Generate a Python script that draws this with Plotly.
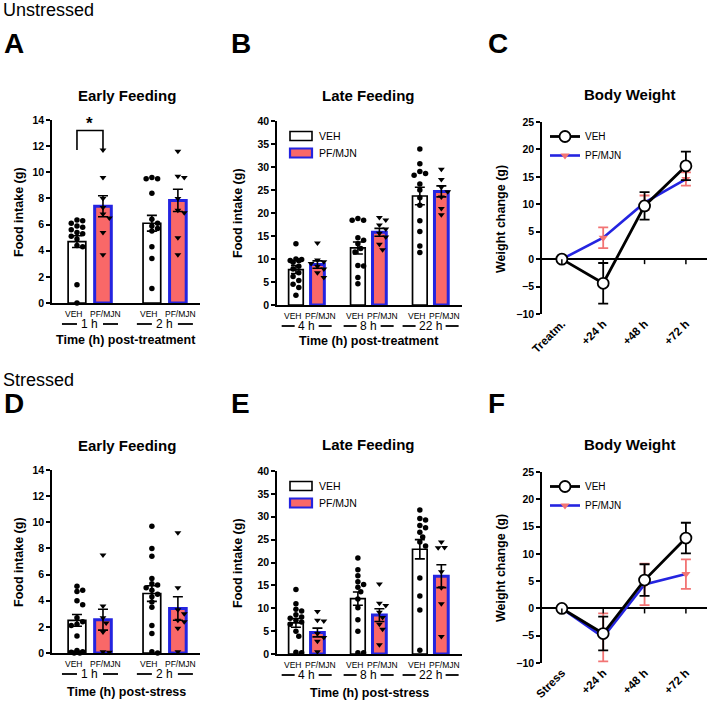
import plotly.graph_objects as go

W, H = 709, 702
FONT = "Liberation Sans, Arial, sans-serif"
SALMON = "#F96868"
BLUE = "#2424E0"
LIGHTRED = "#F27474"

# ---------------- data ----------------
early_groups = ["1 h", "2 h"]
late_groups = ["4 h", "8 h", "22 h"]
bw_labels_unstressed = ["Treatm.", "+24 h", "+48 h", "+72 h"]
bw_labels_stressed = ["Stress", "+24 h", "+48 h", "+72 h"]
series_names = ["VEH", "PF/MJN"]

# Panel A - unstressed early feeding
A_veh_mean = [4.7, 6.1]
A_veh_sem = [0.45, 0.6]
A_pf_mean = [7.4, 7.85]
A_pf_sem = [0.8, 0.85]
A_veh_1h = [6.35, 6.3, 6.1, 5.9, 5.8, 5.6, 5.4, 5.3, 5.1, 4.9, 4.4, 4.3, 1.4, 0.0]
A_pf_1h = [11.7, 9.6, 8.0, 7.3, 6.8, 6.5, 5.4, 3.7]
A_veh_2h = [9.6, 9.5, 9.5, 8.4, 6.4, 6.1, 5.9, 5.7, 5.5, 4.3, 3.4, 1.1]
A_pf_2h = [11.6, 9.7, 9.6, 8.0, 7.1, 6.9, 5.0, 3.7]
A_sig_bracket = [11.7, 13.2]
A_sig_star_y = 13.75

# Panel B - unstressed late feeding
B_veh_mean = [7.7, 12.4, 23.7]
B_veh_sem = [0.85, 1.3, 1.9]
B_pf_mean = [8.8, 15.8, 24.7]
B_pf_sem = [0.8, 0.85, 1.2]
B_veh_4h = [13.3, 10.0, 9.9, 9.7, 9.6, 9.3, 8.4, 7.8, 7.0, 6.2, 5.3, 4.5, 3.8, 2.1]
B_pf_4h = [13.5, 9.8, 9.4, 9.0, 8.4, 7.8, 7.0, 6.0]
B_veh_8h = [18.8, 18.4, 18.4, 14.6, 14.1, 13.3, 12.3, 11.5, 8.6, 8.5, 6.0, 4.6]
B_pf_8h = [19.0, 18.5, 17.4, 16.5, 15.6, 14.8, 13.2, 12.0]
B_veh_22h = [33.9, 30.7, 29.0, 28.6, 28.2, 26.3, 25.0, 23.3, 21.7, 18.3, 16.0, 12.8, 11.4]
B_pf_22h = [29.5, 27.3, 25.6, 24.6, 23.5, 21.0, 19.6]

# Panel C - unstressed body weight
C_veh_mean = [0.0, -4.4, 9.7, 17.0]
C_veh_sem = [0.0, 3.7, 2.5, 2.6]
C_pf_mean = [0.0, 3.9, 10.3, 14.6]
C_pf_sem = [0.0, 1.9, 1.3, 1.2]

# Panel D - stressed early feeding
D_veh_mean = [2.5, 4.55]
D_veh_sem = [0.45, 0.6]
D_pf_mean = [2.55, 3.4]
D_pf_sem = [0.8, 0.9]
D_veh_1h = [5.1, 4.8, 4.7, 4.0, 3.7, 2.7, 2.4, 2.2, 2.1, 1.3, 0.2, 0.1, 0.05, 0.0, 0.0]
D_pf_1h = [7.5, 3.6, 2.7, 2.3, 1.6, 0.1, 0.05]
D_veh_2h = [9.7, 8.0, 7.4, 5.7, 5.3, 5.2, 5.0, 4.8, 4.5, 4.3, 3.9, 3.5, 2.1, 1.5, 0.1, 0.0]
D_pf_2h = [9.2, 5.0, 3.3, 3.0, 2.5, 2.4, 1.9, 0.1]

# Panel E - stressed late feeding
E_veh_mean = [6.8, 12.1, 22.9]
E_veh_sem = [0.95, 1.45, 2.1]
E_pf_mean = [4.7, 8.5, 17.0]
E_pf_sem = [0.95, 1.4, 2.5]
E_veh_4h = [14.1, 11.0, 9.8, 9.4, 8.6, 8.1, 7.8, 7.4, 7.0, 6.5, 5.0, 3.9, 0.4, 0.3]
E_pf_4h = [9.3, 7.4, 7.2, 4.5, 3.6, 2.8, 0.5]
E_veh_8h = [21.0, 18.4, 17.1, 15.8, 15.2, 14.6, 13.6, 12.0, 10.1, 7.5, 5.0, 0.3, 0.3]
E_pf_8h = [15.3, 11.1, 10.6, 9.1, 8.0, 6.5, 5.4, 2.0]
E_veh_22h = [31.5, 29.6, 29.3, 28.1, 27.6, 26.6, 25.6, 24.5, 23.6, 16.6, 12.7, 9.6, 0.8]
E_pf_22h = [24.5, 23.3, 23.2, 18.0, 14.5, 11.0, 3.8]

# Panel F - stressed body weight
F_veh_mean = [0.0, -4.6, 5.2, 12.9]
F_veh_sem = [0.0, 3.1, 2.9, 2.8]
F_pf_mean = [0.0, -5.3, 4.4, 6.3]
F_pf_sem = [0.0, 4.4, 3.8, 2.7]


# ---------------- helpers ----------------
def px_x(x):
    return x / W


def px_y(y):
    return 1 - y / H


GAP = 2.88  # group spacing in x units (pair spacing = 1)


def swarm(vals, ys, xs, d=5.2, lim=8.0):
    """deterministic beeswarm offsets (in x data units)"""
    step = d * 0.55
    cands = [0.0]
    k = 1
    while k * step <= lim:
        cands += [k * step, -k * step]
        k += 1
    placed, out = [], []
    for v in vals:
        y = v * ys
        chosen = None
        for c in cands:
            if all((c - a) ** 2 + (y - b) ** 2 >= d * d for a, b in placed):
                chosen = c
                break
        if chosen is None:
            chosen = max(cands, key=lambda c: min((c - a) ** 2 + (y - b) ** 2 for a, b in placed))
        placed.append((chosen, y))
        out.append(chosen / xs)
    return out


fig = go.Figure()
annotations = []
shapes = []


def bar_panel(ax, groups, veh_mean, veh_sem, pf_mean, pf_sem, veh_pts, pf_pts,
              xs, ys, bottom_px, gap=4, llen=15):
    xa = "x" if ax == 1 else f"x{ax}"
    ya = "y" if ax == 1 else f"y{ax}"
    veh_x = [g * GAP for g in range(len(groups))]
    pf_x = [g * GAP + 1 for g in range(len(groups))]
    fig.add_trace(go.Bar(
        x=veh_x, y=veh_mean, width=0.68, xaxis=xa, yaxis=ya, name=series_names[0],
        marker=dict(color="white", line=dict(color="black", width=1.7)),
        error_y=dict(type="data", array=veh_sem, color="black", thickness=1.6, width=5),
        showlegend=False))
    fig.add_trace(go.Bar(
        x=pf_x, y=pf_mean, width=0.64, xaxis=xa, yaxis=ya, name=series_names[1],
        marker=dict(color=SALMON, line=dict(color=BLUE, width=3)),
        error_y=dict(type="data", array=pf_sem, color="black", thickness=1.6, width=5),
        showlegend=False))
    for g in range(len(groups)):
        offs = swarm(veh_pts[g], ys, xs)
        fig.add_trace(go.Scatter(
            x=[veh_x[g] + o for o in offs], y=veh_pts[g], mode="markers", xaxis=xa, yaxis=ya,
            marker=dict(symbol="circle", size=5.5, color="black"), showlegend=False,
            cliponaxis=False, hoverinfo="y"))
        offs = swarm(pf_pts[g], ys, xs, d=5.8)
        fig.add_trace(go.Scatter(
            x=[pf_x[g] + o for o in offs], y=pf_pts[g], mode="markers", xaxis=xa, yaxis=ya,
            marker=dict(symbol="triangle-down", size=6, color="black"), showlegend=False,
            cliponaxis=False, hoverinfo="y"))
    # category labels
    for g in range(len(groups)):
        annotations.append(dict(x=veh_x[g], y=px_y(bottom_px + 11), xref=xa, yref="paper",
                                text=series_names[0], showarrow=False, xshift=-3,
                                font=dict(family=FONT, size=8.5, color="black"),
                                xanchor="center", yanchor="middle"))
        annotations.append(dict(x=pf_x[g], y=px_y(bottom_px + 11), xref=xa, yref="paper",
                                text=series_names[1], showarrow=False, xshift=3,
                                font=dict(family=FONT, size=8.5, color="black"),
                                xanchor="center", yanchor="middle"))
        cx = (veh_x[g] + pf_x[g]) / 2
        yy = px_y(bottom_px + 21)
        annotations.append(dict(x=cx, y=yy, xref=xa, yref="paper", text=groups[g],
                                showarrow=False, font=dict(family=FONT, size=12, color="black"),
                                xanchor="center", yanchor="middle"))
        hw = 3.0 * len(groups[g])
        for sgn in (-1, 1):
            shapes.append(dict(type="line", xref=xa, yref="paper",
                               x0=cx + sgn * (hw + gap) / xs, x1=cx + sgn * (hw + gap + llen) / xs,
                               y0=yy, y1=yy, line=dict(color="black", width=1.8)))


def bar_legend(x, y_veh, y_pf):
    shapes.append(dict(type="rect", xref="paper", yref="paper",
                       x0=px_x(x), x1=px_x(x + 22), y0=px_y(y_veh + 4.5), y1=px_y(y_veh - 4.5),
                       fillcolor="white", line=dict(color="black", width=1.6)))
    shapes.append(dict(type="rect", xref="paper", yref="paper",
                       x0=px_x(x), x1=px_x(x + 22), y0=px_y(y_pf + 4.5), y1=px_y(y_pf - 4.5),
                       fillcolor=SALMON, line=dict(color=BLUE, width=2.2)))
    for yy, s in ((y_veh, series_names[0]), (y_pf, series_names[1])):
        annotations.append(dict(x=px_x(x + 27), y=px_y(yy), xref="paper", yref="paper", text=s,
                                showarrow=False, xanchor="left", yanchor="middle",
                                font=dict(family=FONT, size=10.5, color="black")))


def bw_panel(ax, labels, veh_mean, veh_sem, pf_mean, pf_sem, legend):
    xa = f"x{ax}"
    ya = f"y{ax}"
    fig.add_trace(go.Scatter(
        x=labels, y=pf_mean, xaxis=xa, yaxis=ya, mode="lines+markers", name=series_names[1],
        line=dict(color=BLUE, width=2.6),
        marker=dict(symbol="triangle-down", size=8, color=LIGHTRED),
        error_y=dict(type="data", array=pf_sem, color=LIGHTRED, thickness=1.8, width=5),
        legend=legend, legendrank=2, cliponaxis=False))
    fig.add_trace(go.Scatter(
        x=labels, y=veh_mean, xaxis=xa, yaxis=ya, mode="lines+markers", name=series_names[0],
        line=dict(color="black", width=2.8),
        marker=dict(symbol="circle", size=11, color="white", line=dict(color="black", width=1.8)),
        error_y=dict(type="data", array=veh_sem, color="black", thickness=1.8, width=5),
        legend=legend, legendrank=1, cliponaxis=False))
    for i in range(len(labels)):
        shapes.append(dict(type="line", xref=xa, yref=ya, ysizemode="pixel", yanchor=0,
                           x0=i, x1=i, y0=0, y1=-5, line=dict(color="black", width=1.5)))


# Panels
bar_panel(1, early_groups, A_veh_mean, A_veh_sem, A_pf_mean, A_pf_sem,
          [A_veh_1h, A_veh_2h], [A_pf_1h, A_pf_2h], xs=26.0, ys=183 / 14, bottom_px=303)
bar_panel(2, late_groups, B_veh_mean, B_veh_sem, B_pf_mean, B_pf_sem,
          [B_veh_4h, B_veh_8h, B_veh_22h], [B_pf_4h, B_pf_8h, B_pf_22h],
          xs=21.5, ys=184 / 40, bottom_px=305, gap=3, llen=13)
bar_legend(290, 136, 153)
bw_panel(3, bw_labels_unstressed, C_veh_mean, C_veh_sem, C_pf_mean, C_pf_sem, "legend")
bar_panel(4, early_groups, D_veh_mean, D_veh_sem, D_pf_mean, D_pf_sem,
          [D_veh_1h, D_veh_2h], [D_pf_1h, D_pf_2h], xs=26.0, ys=183 / 14, bottom_px=653)
bar_panel(5, late_groups, E_veh_mean, E_veh_sem, E_pf_mean, E_pf_sem,
          [E_veh_4h, E_veh_8h, E_veh_22h], [E_pf_4h, E_pf_8h, E_pf_22h],
          xs=21.5, ys=183 / 40, bottom_px=654, gap=3, llen=13)
bar_legend(290, 486, 503)
bw_panel(6, bw_labels_stressed, F_veh_mean, F_veh_sem, F_pf_mean, F_pf_sem, "legend2")

# significance bracket (panel A)
fig.add_trace(go.Scatter(x=[0, 0, 1, 1], y=[A_sig_bracket[0], A_sig_bracket[1], A_sig_bracket[1], A_sig_bracket[0]],
                         mode="lines", line=dict(color="black", width=1.6), xaxis="x", yaxis="y",
                         showlegend=False, hoverinfo="skip", cliponaxis=False))
annotations.append(dict(x=0.5, y=A_sig_star_y, xref="x", yref="y", text="<b>*</b>", showarrow=False,
                        font=dict(family=FONT, size=17, color="black"), yanchor="middle"))

# ---------------- axes ----------------
tickfont = dict(family=FONT, size=10.5, color="black", weight="bold")


def yaxis(top, bot, rng, dtick, anchor, zeroline=False):
    return dict(domain=[px_y(bot), px_y(top)], range=rng, dtick=dtick, anchor=anchor,
                showline=True, linecolor="black", linewidth=1.6, ticks="outside", ticklen=4,
                tickwidth=1.6, tickcolor="black", tickfont=tickfont, showgrid=False,
                zeroline=zeroline, zerolinecolor="black", zerolinewidth=1.6, automargin=False)


def xbar(left, right, rng, anchor):
    return dict(domain=[px_x(left), px_x(right)], range=rng, anchor=anchor, showline=True,
                linecolor="black", linewidth=1.6, showticklabels=False, ticks="",
                showgrid=False, zeroline=False, automargin=False)


def xbw(left, right, anchor):
    return dict(domain=[px_x(left), px_x(right)], range=[-0.48, 3.51], anchor=anchor,
                type="category", showline=False, ticks="", tickangle=-45,
                tickfont=dict(family=FONT, size=11.5, color="black", weight="bold"),
                showgrid=False, zeroline=False, automargin=False)


layout = dict(
    width=W, height=H, margin=dict(l=0, r=0, t=0, b=0, pad=0, autoexpand=False),
    paper_bgcolor="white", plot_bgcolor="white", barmode="overlay",
    font=dict(family=FONT, color="black"),
    xaxis=xbar(52, 200, [-0.96, 4.73], "y"),
    yaxis=yaxis(120, 303, [0, 14], 2, "x"),
    xaxis2=xbar(277, 462, [-0.88, 7.72], "y2"),
    yaxis2=yaxis(121, 305, [0, 40], 5, "x2"),
    xaxis3=xbw(542, 707, "y3"),
    yaxis3=yaxis(122, 314, [-10, 25], 5, "x3", zeroline=True),
    xaxis4=xbar(52, 200, [-0.96, 4.73], "y4"),
    yaxis4=yaxis(470, 653, [0, 14], 2, "x4"),
    xaxis5=xbar(277, 462, [-0.88, 7.72], "y5"),
    yaxis5=yaxis(471, 654, [0, 40], 5, "x5"),
    xaxis6=xbw(542, 707, "y6"),
    yaxis6=yaxis(472, 663, [-10, 25], 5, "x6", zeroline=True),
)


def leg(x, y):
    return dict(x=px_x(x), y=px_y(y), xanchor="left", yanchor="top", bgcolor="rgba(0,0,0,0)",
                font=dict(family=FONT, size=10, color="black"), tracegroupgap=0,
                itemclick=False, itemdoubleclick=False)


layout["legend"] = leg(545, 122)
layout["legend2"] = leg(545, 472)

# ---------------- text ----------------
def txt(x, y, s, size, bold=False, anchor="center", angle=0):
    annotations.append(dict(x=px_x(x), y=px_y(y), xref="paper", yref="paper",
                            text=f"<b>{s}</b>" if bold else s, showarrow=False,
                            xanchor=anchor, yanchor="middle", textangle=angle,
                            font=dict(family=FONT, size=size, color="black")))


txt(1, 10, "Unstressed", 18, anchor="left")
txt(1, 380, "Stressed", 18, anchor="left")
for (x, y, s) in [(2, 43, "A"), (229, 43, "B"), (486, 43, "C"),
                  (2, 403, "D"), (229, 403, "E"), (486, 403, "F")]:
    txt(x, y, s, 28, bold=True, anchor="left")

for (x, y, s) in [(127, 95, "Early Feeding"), (368, 95, "Late Feeding"), (629, 94, "Body Weight"),
                  (127, 445, "Early Feeding"), (368, 444, "Late Feeding"), (629, 444, "Body Weight")]:
    txt(x, y, s, 15, bold=True)

for (x, y, s) in [(19, 212, "Food intake (g)"), (238, 213, "Food intake (g)"), (501, 219, "Weight change (g)"),
                  (19, 562, "Food intake (g)"), (238, 563, "Food intake (g)"), (501, 568, "Weight change (g)")]:
    txt(x, y, s, 12.5, bold=True, angle=-90)

for (x, y, s) in [(126, 340, "Time (h) post-treatment"), (369, 341, "Time (h) post-treatment"),
                  (126, 692, "Time (h) post-stress"), (369, 693, "Time (h) post-stress")]:
    txt(x, y, s, 12.5, bold=True)

layout["annotations"] = annotations
layout["shapes"] = shapes
fig.update_layout(**layout)
fig.write_html("out.html", config={"displayModeBar": False},
               post_script="document.body.style.margin='0';document.body.style.padding='0';")
